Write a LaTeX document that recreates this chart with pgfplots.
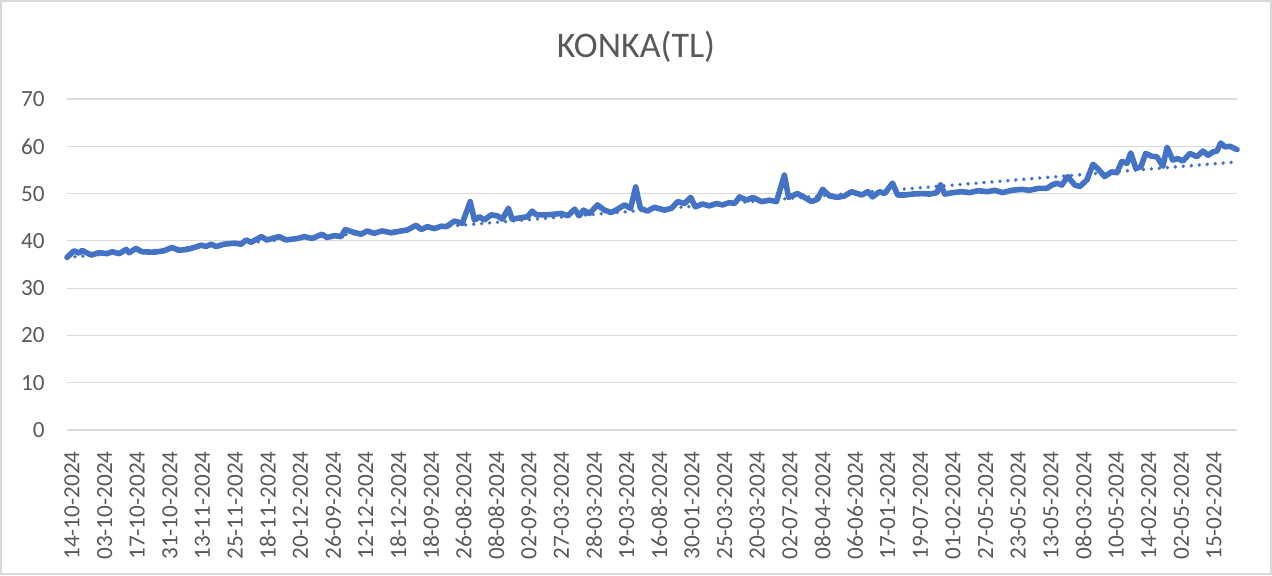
\documentclass[border=0pt]{standalone}
\usepackage{fontspec}
\setmainfont{Carlito}
\usepackage{pgfplots}
\pgfplotsset{compat=1.18}
\definecolor{xlblue}{HTML}{4472C4}
\definecolor{xlgrid}{HTML}{D9D9D9}
\definecolor{xltext}{HTML}{595959}
\begin{document}
\begin{tikzpicture}
\useasboundingbox (0,0) rectangle (636pt,287.5pt);
\draw[xlgrid, line width=0.6pt] (0.5pt,0.5pt) rectangle (635.5pt,287pt);
\begin{axis}[
  at={(33.5pt,72.5pt)}, anchor=south west,
  scale only axis, width=585pt, height=165.5pt,
  xmin=0, xmax=251, ymin=0, ymax=70,
  ytick={0,10,...,70},
  xtick={0,7,...,245},
  xticklabels={14-10-2024,03-10-2024,17-10-2024,31-10-2024,13-11-2024,25-11-2024,18-11-2024,20-12-2024,26-09-2024,12-12-2024,18-12-2024,18-09-2024,26-08-2024,08-08-2024,02-09-2024,27-03-2024,28-03-2024,19-03-2024,16-08-2024,30-01-2024,25-03-2024,20-03-2024,02-07-2024,08-04-2024,06-06-2024,17-01-2024,19-07-2024,01-02-2024,27-05-2024,23-05-2024,13-05-2024,08-03-2024,10-05-2024,14-02-2024,02-05-2024,15-02-2024},
  axis line style={draw=none},
  major tick length=0pt,
  ymajorgrids, grid style={xlgrid, line width=0.6pt},
  tick label style={font=\fontsize{11.6}{12}\selectfont, text=xltext},
  /pgf/number format/assume math mode=true,
  yticklabel style={anchor=east, inner xsep=11pt},
  xticklabel style={xshift=2.5pt, rotate=90, anchor=east, inner xsep=10.5pt, inner ysep=0pt},
  title={KONKA(TL)},
  title style={at={(0.5,1)}, anchor=center, yshift=20pt, xshift=-8pt, font=\fontsize{18}{20}\selectfont, text=xltext},
  clip=false,
]
\addplot[xlblue, line width=2.8pt, line join=round, line cap=round] coordinates {
(0,36.5) (1.5,37.9) (2.6,37.4) (3.2,38.0) (5.2,37.0) (6.9,37.5) (8.6,37.3) (9.7,37.7) (11.2,37.3) (12.7,38.2) (13.3,37.5) (14.8,38.4) (16.1,37.7) (18.7,37.6) (20.8,37.9) (22.5,38.6) (24.0,38.0) (25.8,38.2) (27.3,38.6) (28.8,39.1) (29.8,38.8) (30.9,39.3) (32.0,38.8) (33.7,39.3) (35.9,39.5) (37.4,39.3) (38.4,40.2) (39.5,39.7)
(41.7,40.9) (42.9,40.2) (45.5,40.9) (47.0,40.2) (49.4,40.5) (50.9,40.9) (52.6,40.5) (54.7,41.4) (55.8,40.7) (57.3,41.1) (58.8,40.9) (59.7,42.4) (61.2,41.9) (63.1,41.4) (64.4,42.1) (65.9,41.6) (67.6,42.1) (69.6,41.7) (71.7,42.1) (73.0,42.3) (74.9,43.3) (76.0,42.4) (77.3,43.0) (78.8,42.6) (80.3,43.1) (81.4,43.0) (83.1,44.2)
(84.8,43.7) (86.5,48.3) (87.4,44.4) (88.5,45.1) (89.5,44.4) (91.0,45.5) (92.3,45.3) (93.4,44.6) (94.7,46.9) (95.5,44.6) (97.5,44.9) (98.8,45.1) (99.8,46.3) (100.7,45.5) (102.4,45.5) (104.1,45.6) (106.1,45.8) (107.4,45.3) (108.9,46.7) (109.9,45.3) (110.8,46.5) (112.1,45.8) (113.8,47.6) (115.3,46.5) (116.8,46.0) (118.1,46.7) (119.6,47.6) (120.9,46.9) (122.0,51.4) (123.0,46.9) (124.5,46.3) (126.0,47.1)
(128.2,46.5) (129.7,46.9) (131.0,48.3) (132.5,47.9) (133.8,49.2) (134.8,47.2) (136.3,47.8) (137.8,47.4) (139.3,47.9) (140.6,47.6) (142.1,48.1) (143.2,47.9) (144.3,49.3) (145.8,48.6) (147.1,49.2) (149.0,48.3) (150.7,48.6) (152.2,48.3) (153.9,53.9) (154.8,49.2) (156.7,50.0) (158.2,49.2) (159.7,48.3) (161.0,48.8) (162.1,50.9) (163.6,49.5) (165.3,49.2) (166.8,49.5) (168.3,50.4)
(170.5,49.7) (171.8,50.4) (172.8,49.3) (174.3,50.4) (175.4,50.0) (177.1,52.2) (178.2,49.7) (179.7,49.7) (181.4,49.9) (183.4,50.0) (185.1,49.9) (186.6,50.2) (187.4,51.9) (188.3,49.9) (190.0,50.2) (191.9,50.4) (193.7,50.2) (195.4,50.6) (197.5,50.4) (199.0,50.7) (200.7,50.2) (202.7,50.7) (204.8,50.9) (206.5,50.7) (208.3,51.1) (210.2,51.1) (211.3,51.8)
(212.3,52.2) (213.4,51.8) (214.7,53.6) (216.2,51.8) (217.3,51.5) (218.8,52.9) (220.1,56.2) (221.1,55.3) (222.6,53.6) (224.1,54.6) (225.2,54.4) (226.3,56.8) (227.4,56.4) (228.2,58.6) (229.3,55.3) (230.4,55.7) (231.4,58.5) (232.7,57.9) (233.8,57.8) (235.1,55.8) (236.0,59.8) (237.2,57.1) (238.3,57.4) (239.4,56.9) (240.9,58.5) (242.4,57.8) (243.7,59.0) (244.8,58.1) (245.8,58.8) (246.7,59.0) (247.5,60.7) (248.4,59.9) (249.5,60.0) (251,59.3)
};
\addplot[xlblue, line width=1.9pt, dash pattern=on 0pt off 4pt, line cap=round] coordinates {(0,36.5) (251,56.7)};
\end{axis}
\end{tikzpicture}
\end{document}
